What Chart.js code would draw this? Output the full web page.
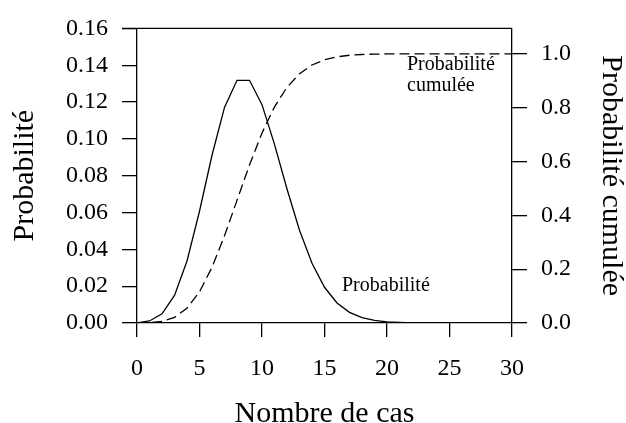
<!DOCTYPE html>
<html>
<head>
<meta charset="utf-8">
<script src="https://cdn.jsdelivr.net/npm/chart.js@4"></script>
<style>
  html, body { margin: 0; padding: 0; background: #fff; }
  #wrap { width: 626px; height: 423px; }
</style>
</head>
<body>
<div id="wrap"><canvas id="chart" width="626" height="423"></canvas></div>
<script>
// nombre de cas 0..30
const cases = [0,1,2,3,4,5,6,7,8,9,10,11,12,13,14,15,16,17,18,19,20,21,22,23,24,25,26,27,28,29,30];
const proba = [0.0001,0.0011,0.005,0.015,0.0337,0.0607,0.0911,0.1171,0.1318,0.1318,0.1186,0.097,0.0728,0.0504,0.0324,0.0194,0.0109,0.0058,0.0029,0.0014,0.0006,0.0003,0.0001,0,0,0,0,0,0,0,0];
const cumul = [0.0001,0.0012,0.0062,0.0212,0.055,0.1157,0.2068,0.3239,0.4557,0.5874,0.706,0.803,0.8758,0.9261,0.9585,0.978,0.9889,0.9947,0.9976,0.9989,0.9996,0.9998,0.9999,1,1,1,1,1,1,1,1];
const xTicks = [0,5,10,15,20,25,30];
const leftTicks = [0,0.02,0.04,0.06,0.08,0.10,0.12,0.14,0.16];
const rightTicks = [0,0.2,0.4,0.6,0.8,1.0];

const serif = "'Liberation Serif', 'DejaVu Serif', serif";

const annotations = {
  id: 'annotations',
  afterDraw(chart) {
    const ctx = chart.ctx;
    const a = chart.chartArea;
    ctx.save();
    // top border + extension to left tick
    ctx.strokeStyle = '#000';
    ctx.lineWidth = 1.3;
    ctx.beginPath();
    ctx.moveTo(a.left - 15, a.top);
    ctx.lineTo(a.right, a.top);
    ctx.stroke();
    ctx.fillStyle = '#000';
    ctx.font = "20px " + serif;
    ctx.textBaseline = 'middle';
    ctx.textAlign = 'left';
    const x = chart.scales.x;
    const y1 = chart.scales.y1;
    ctx.fillText('Probabilité', x.getPixelForValue(16.4), y1.getPixelForValue(0.0205));
    ctx.fillText('Probabilité', x.getPixelForValue(21.6), y1.getPixelForValue(0.1405));
    ctx.fillText('cumulée', x.getPixelForValue(21.6), y1.getPixelForValue(0.129));
    ctx.restore();
  }
};

new Chart(document.getElementById('chart'), {
  type: 'line',
  data: {
    labels: cases,
    datasets: [
      { label: 'Probabilité', data: proba, yAxisID: 'y1', borderColor: '#000', borderWidth: 1.3, pointRadius: 0, tension: 0, fill: false },
      { label: 'Probabilité cumulée', data: cumul, yAxisID: 'y2', borderColor: '#000', borderWidth: 1.3, borderDash: [10, 5], pointRadius: 0, tension: 0, fill: false }
    ]
  },
  options: {
    responsive: false,
    animation: false,
    layout: { padding: { top: 22, left: 0, right: 0, bottom: 0 } },
    plugins: { legend: { display: false }, tooltip: { enabled: false } },
    scales: {
      x: {
        type: 'linear', min: 0, max: 30,
        afterBuildTicks: s => { s.ticks = xTicks.map(v => ({ value: v })); },
        afterFit: s => { s.height = 100; },
        grid: { drawOnChartArea: false, drawTicks: true, tickLength: 14, color: '#000', lineWidth: 1.3 },
        border: { color: '#000', width: 1.3 },
        ticks: { color: '#000', font: { family: serif, size: 24 }, padding: 17, maxRotation: 0 },
        title: { display: true, text: 'Nombre de cas', color: '#000', font: { family: serif, size: 30, lineHeight: 1 }, padding: { top: 0, bottom: -6 } }
      },
      y1: {
        position: 'left', min: 0, max: 0.16,
        afterBuildTicks: s => { s.ticks = leftTicks.map(v => ({ value: v })); },
        afterFit: s => { s.width = 137; },
        grid: { drawOnChartArea: false, tickLength: 15, color: '#000', lineWidth: 1.3 },
        border: { color: '#000', width: 1.3 },
        ticks: { color: '#000', font: { family: serif, size: 24 }, padding: 14, callback: v => v.toFixed(2) },
        title: { display: true, text: 'Probabilité', color: '#000', font: { family: serif, size: 30, lineHeight: 1 }, padding: { top: 10, bottom: 0 } }
      },
      y2: {
        position: 'right', min: 0, max: 1.0945,
        afterBuildTicks: s => { s.ticks = rightTicks.map(v => ({ value: v })); },
        afterFit: s => { s.width = 114; },
        grid: { drawOnChartArea: false, tickLength: 15, color: '#000', lineWidth: 1.3 },
        border: { color: '#000', width: 1.3 },
        ticks: { color: '#000', font: { family: serif, size: 24 }, padding: 14, callback: v => v.toFixed(1) },
        title: { display: true, text: 'Probabilité cumulée', color: '#000', font: { family: serif, size: 30, lineHeight: 1 }, padding: 0 }
      }
    }
  },
  plugins: [annotations]
});
</script>
</body>
</html>
